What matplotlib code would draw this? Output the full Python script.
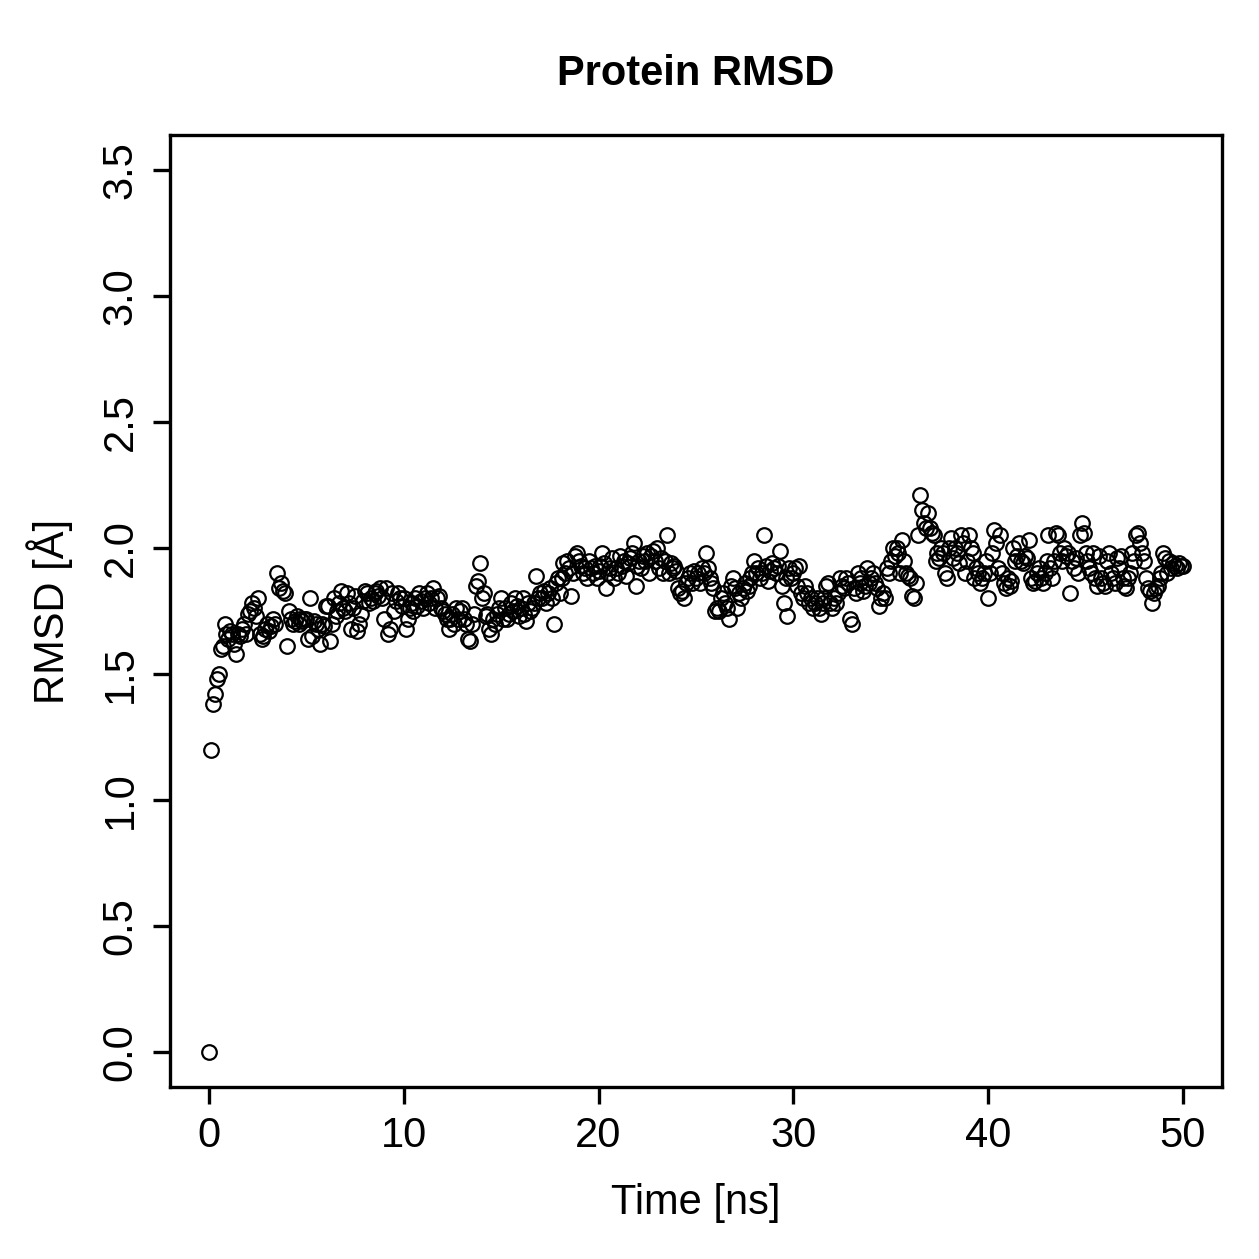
import numpy as np
import matplotlib
matplotlib.use("Agg")
import matplotlib.pyplot as plt

plt.rcParams["font.family"] = ["Liberation Sans", "DejaVu Sans"]

# -----------------------------
# Data: RMSD every 0.1 ns (one row per ns)
# -----------------------------
rmsd = [
    0.00, 1.20, 1.38, 1.42, 1.48, 1.50, 1.60, 1.61, 1.70, 1.66,
    1.64, 1.67, 1.66, 1.62, 1.58, 1.66, 1.65, 1.68, 1.70, 1.66,
    1.74, 1.75, 1.78, 1.76, 1.73, 1.80, 1.66, 1.64, 1.65, 1.68,
    1.70, 1.67, 1.69, 1.72, 1.70, 1.90, 1.84, 1.86, 1.83, 1.82,
    1.61, 1.75, 1.72, 1.70, 1.71, 1.73, 1.70, 1.72, 1.71, 1.72,
    1.72, 1.64, 1.80, 1.65, 1.71, 1.70, 1.68, 1.62, 1.70, 1.69,
    1.77, 1.77, 1.63, 1.70, 1.80, 1.73, 1.75, 1.78, 1.83, 1.76,
    1.75, 1.82, 1.78, 1.68, 1.76, 1.81, 1.67, 1.70, 1.74, 1.79,
    1.83, 1.82, 1.78, 1.80, 1.79, 1.82, 1.83, 1.81, 1.84, 1.80,
    1.72, 1.84, 1.66, 1.68, 1.82, 1.75, 1.79, 1.82, 1.80, 1.77,
    1.80, 1.68, 1.72, 1.76, 1.78, 1.75, 1.80, 1.77, 1.82, 1.79,
    1.76, 1.80, 1.82, 1.78, 1.80, 1.84, 1.76, 1.80, 1.81, 1.76,
    1.75, 1.74, 1.72, 1.68, 1.72, 1.74, 1.70, 1.76, 1.72, 1.75,
    1.76, 1.72, 1.70, 1.64, 1.63, 1.70, 1.74, 1.85, 1.87, 1.94,
    1.80, 1.82, 1.73, 1.74, 1.68, 1.66, 1.72, 1.70, 1.74, 1.76,
    1.80, 1.72, 1.76, 1.72, 1.74, 1.78, 1.75, 1.80, 1.77, 1.73,
    1.76, 1.80, 1.74, 1.71, 1.78, 1.75, 1.76, 1.78, 1.89, 1.80,
    1.82, 1.80, 1.83, 1.78, 1.82, 1.84, 1.80, 1.70, 1.86, 1.88,
    1.82, 1.88, 1.94, 1.90, 1.95, 1.92, 1.81, 1.90, 1.97, 1.98,
    1.95, 1.93, 1.90, 1.92, 1.88, 1.95, 1.92, 1.90, 1.93, 1.88,
    1.91, 1.93, 1.98, 1.94, 1.84, 1.90, 1.92, 1.96, 1.88, 1.92,
    1.90, 1.97, 1.93, 1.95, 1.89, 1.94, 1.96, 1.98, 2.02, 1.85,
    1.93, 1.95, 1.92, 1.97, 1.95, 1.98, 1.90, 1.97, 1.99, 1.95,
    2.00, 1.92, 1.96, 1.90, 1.95, 2.05, 1.90, 1.94, 1.92, 1.93,
    1.91, 1.84, 1.82, 1.83, 1.80, 1.86, 1.88, 1.90, 1.86, 1.91,
    1.88, 1.90, 1.86, 1.92, 1.90, 1.98, 1.92, 1.88, 1.86, 1.84,
    1.75, 1.76, 1.75, 1.80, 1.82, 1.78, 1.76, 1.72, 1.85, 1.88,
    1.84, 1.76, 1.82, 1.80, 1.84, 1.86, 1.83, 1.85, 1.88, 1.90,
    1.95, 1.90, 1.92, 1.88, 1.90, 2.05, 1.93, 1.87, 1.91, 1.94,
    1.92, 1.90, 1.93, 1.99, 1.85, 1.78, 1.88, 1.73, 1.92, 1.88,
    1.90, 1.92, 1.85, 1.93, 1.82, 1.80, 1.85, 1.82, 1.78, 1.80,
    1.76, 1.78, 1.80, 1.76, 1.74, 1.78, 1.80, 1.85, 1.86, 1.78,
    1.76, 1.80, 1.78, 1.82, 1.88, 1.85, 1.84, 1.88, 1.86, 1.72,
    1.70, 1.84, 1.82, 1.90, 1.86, 1.88, 1.83, 1.85, 1.92, 1.86,
    1.88, 1.90, 1.86, 1.84, 1.77, 1.80, 1.82, 1.80, 1.92, 1.90,
    1.95, 2.00, 1.97, 2.00, 1.98, 1.90, 2.03, 1.95, 1.90, 1.89,
    1.88, 1.81, 1.80, 1.86, 2.05, 2.21, 2.15, 2.10, 2.08, 2.14,
    2.08, 2.06, 2.05, 1.95, 1.98, 1.96, 2.00, 1.98, 1.90, 1.88,
    2.00, 2.04, 1.96, 2.00, 1.98, 1.94, 2.05, 2.02, 1.90, 1.95,
    2.05, 2.00, 1.98, 1.88, 1.92, 1.90, 1.86, 1.88, 1.90, 1.95,
    1.80, 1.90, 1.98, 2.07, 2.02, 1.92, 2.05, 1.90, 1.86, 1.84,
    1.88, 1.85, 1.87, 2.00, 1.95, 1.97, 2.02, 1.95, 1.94, 1.97,
    1.96, 2.03, 1.88, 1.86, 1.87, 1.90, 1.92, 1.88, 1.86, 1.90,
    1.95, 2.05, 1.92, 1.88, 1.95, 2.06, 2.05, 1.98, 1.95, 2.00,
    1.97, 1.98, 1.82, 1.95, 1.92, 1.96, 1.90, 2.05, 2.10, 2.06,
    1.98, 1.95, 1.92, 1.90, 1.98, 1.88, 1.85, 1.97, 1.88, 1.86,
    1.85, 1.95, 1.98, 1.90, 1.88, 1.86, 1.96, 1.92, 1.97, 1.88,
    1.85, 1.84, 1.88, 1.90, 1.98, 1.95, 2.05, 2.06, 2.02, 1.98,
    1.95, 1.88, 1.84, 1.83, 1.78, 1.82, 1.84, 1.85, 1.88, 1.90,
    1.98, 1.96, 1.90, 1.95, 1.92, 1.94, 1.93, 1.92, 1.94, 1.93,
    1.93,
]
time_ns = np.arange(len(rmsd)) * 0.1

x_ticks = [0, 10, 20, 30, 40, 50]
y_ticks = [0.0, 0.5, 1.0, 1.5, 2.0, 2.5, 3.0, 3.5]

# -----------------------------
# Plot
# -----------------------------
fig = plt.figure(figsize=(12.59, 12.59), dpi=100)
ax = fig.add_axes([0.135, 0.1366, 0.8355, 0.7562])

ax.plot(time_ns, rmsd, linestyle="none", marker="o", markersize=10.5,
        markerfacecolor="none", markeredgecolor="black", markeredgewidth=1.6)

ax.set_xlim(-2, 52)
ax.set_ylim(-0.14, 3.64)
ax.set_xticks(x_ticks)
ax.set_xticklabels([str(t) for t in x_ticks])
ax.set_yticks(y_ticks)
ax.set_yticklabels([f"{t:.1f}" for t in y_ticks], rotation=90, va="center")

for sp in ax.spines.values():
    sp.set_linewidth(2.4)
ax.tick_params(direction="out", length=12, width=2.4, labelsize=30, pad=9)

ax.set_xlabel("Time [ns]", fontsize=30, labelpad=19)
ax.set_ylabel("RMSD [Å]", fontsize=30, labelpad=20)
ax.set_title("Protein RMSD", fontsize=30, fontweight="bold", pad=36)

fig.savefig("out.png", dpi=100)
